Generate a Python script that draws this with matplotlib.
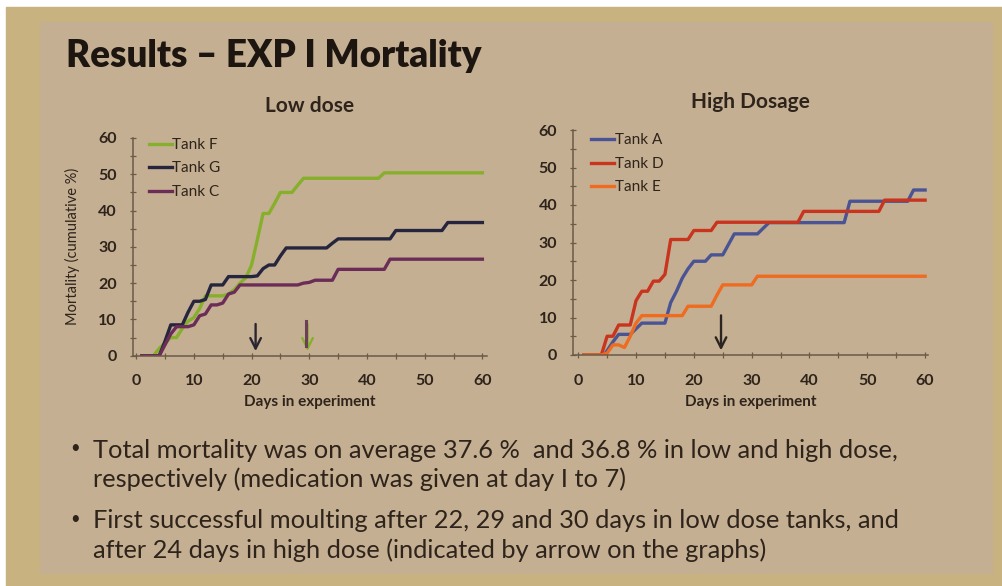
import matplotlib.pyplot as plt
from matplotlib.patches import Rectangle
from matplotlib.ticker import MultipleLocator

plt.rcParams['font.family'] = ['Lato', 'DejaVu Sans']

# --- data ---
# low dose
f_days = [1, 3, 4, 5, 6, 7, 8, 9, 10, 11, 12, 15, 16, 17, 18, 19, 20, 21, 22, 23, 24, 25, 27, 28, 29, 42, 43, 60]
f_vals = [0, 0, 2, 3.5, 5, 5, 7.5, 9.5, 10.5, 13, 16.5, 16.5, 17, 18.2, 20, 21.5, 25, 32, 39.2, 39.2, 42, 45, 45, 47, 48.9, 48.9, 50.4, 50.4]
g_days = [1, 4, 5, 6, 8, 9, 10, 11, 12, 13, 15, 16, 20, 21, 22, 23, 24, 25, 26, 33, 34, 35, 44, 45, 53, 54, 60]
g_vals = [0, 0, 4, 8.5, 8.5, 12, 15, 15, 15.5, 19.5, 19.5, 21.8, 21.8, 22, 24, 25, 25, 27.5, 29.7, 29.7, 31, 32.2, 32.2, 34.5, 34.5, 36.7, 36.7]
c_days = [1, 4, 5, 6, 7, 9, 10, 11, 12, 13, 14, 15, 16, 17, 18, 28, 29, 30, 31, 34, 35, 43, 44, 60]
c_vals = [0, 0, 3, 6, 8, 8, 8.5, 11, 11.5, 14, 14, 14.5, 17, 17.5, 19.5, 19.5, 20, 20.2, 20.8, 20.8, 23.8, 23.8, 26.6, 26.6]

# high dosage
a_days = [1, 4.5, 6, 7, 9, 10, 11, 15, 16, 17, 18, 19, 20, 22, 23, 25, 27, 31, 33, 46, 47, 57, 58, 60]
a_vals = [0, 0, 3.5, 5.5, 5.5, 7, 8.5, 8.5, 14, 17, 20.5, 23, 25, 25, 26.7, 26.7, 32.3, 32.3, 35.3, 35.3, 41, 41, 44, 44]
d_days = [1, 4, 5, 6, 7, 9, 10, 11, 12, 13, 14, 15, 16, 19, 20, 23, 24, 38, 39, 52, 53, 60]
d_vals = [0, 0, 5, 5, 8, 8, 14.5, 17, 17, 19.7, 19.7, 21.5, 30.8, 30.8, 33.2, 33.2, 35.4, 35.4, 38.3, 38.3, 41.3, 41.3]
e_days = [1, 4, 5, 6, 7, 8, 9, 10, 11, 18, 19, 23, 24, 25, 30, 31, 60]
e_vals = [0, 0, 0.5, 2.7, 2.7, 2, 5, 8.5, 10.5, 10.5, 13, 13, 16, 18.7, 18.7, 21, 21]

# first moulting arrows (day, colour)
low_arrows = [(20.7, '#2a2530'), (29.7, '#86b02c')]
low_shafts = [(29.4, '#6b3f55')]
high_arrows = [(24.7, '#2a2520')]

ink = '#2e241b'
spine_c = '#6a5a48'
arrow_style = '->,head_length=0.75,head_width=0.38'

fig = plt.figure(figsize=(10.02, 5.86), dpi=100, facecolor='white')
W, H = 1002, 586


def px_rect(x0, y0, x1, y1, color):
    fig.patches.append(Rectangle((x0 / W, 1 - y1 / H), (x1 - x0) / W, (y1 - y0) / H,
                                 transform=fig.transFigure, color=color, zorder=-10))


px_rect(6, 7, 1002, 586, '#c8b27f')
px_rect(40, 22, 992, 573, '#c5af92')


def style_axes(ax):
    ax.set_facecolor('none')
    ax.set_zorder(2)
    for s in ['top', 'right']:
        ax.spines[s].set_visible(False)
    for s in ['left', 'bottom']:
        ax.spines[s].set_color(spine_c)
        ax.spines[s].set_linewidth(1.1)
    ax.set_ylim(0, 60)
    ax.xaxis.set_major_locator(MultipleLocator(10))
    ax.xaxis.set_minor_locator(MultipleLocator(5))
    ax.yaxis.set_major_locator(MultipleLocator(10))
    ax.yaxis.set_minor_locator(MultipleLocator(5))
    ax.tick_params(which='both', direction='inout', color=spine_c, width=0.9)
    ax.tick_params(which='major', length=5, labelsize=11.5, labelcolor=ink)
    ax.tick_params(axis='y', which='major', pad=9)
    ax.tick_params(axis='x', which='major', pad=11)
    ax.tick_params(which='minor', length=4)
    for lab in ax.get_xticklabels() + ax.get_yticklabels():
        lab.set_fontweight('bold')
    ax.set_xlabel('Days in experiment', fontsize=11, fontweight='bold', color=ink, labelpad=5)


def legend(ax, anchor):
    ax.legend(loc='upper left', bbox_to_anchor=anchor, frameon=False, borderpad=0,
              borderaxespad=0, handlelength=1.5, handletextpad=0.05, labelspacing=0.62,
              prop={'size': 11}, labelcolor=ink)


# left axes
ax1 = fig.add_axes([132.7 / W, 1 - 355.7 / H, (487 - 132.7) / W, (355.7 - 138) / H])
ax1.set_xlim(-0.6, 60.8)
ax1.plot(f_days, f_vals, color='#86b02c', lw=2.4, label='Tank F')
ax1.plot(g_days, g_vals, color='#25253d', lw=2.4, label='Tank G')
ax1.plot(c_days, c_vals, color='#6b2d58', lw=2.4, label='Tank C')
style_axes(ax1)
ax1.set_ylabel('Mortality (cumulative %)', fontsize=10.5, color=ink, labelpad=13)
ax1.set_title('Low dose', fontsize=15, fontweight='bold', color=ink, pad=19)
for day, col in low_arrows:
    ax1.annotate('', xy=(day, 0.5), xytext=(day, 9.5),
                 arrowprops=dict(arrowstyle=arrow_style, color=col, lw=1.7))
for day, col in low_shafts:
    ax1.plot([day, day], [9.5, 2.8], color=col, lw=2.2, zorder=5)
legend(ax1, (0.045, 1.0))

# right axes
ax2 = fig.add_axes([573.3 / W, 1 - 355 / H, (928 - 573.3) / W, (355 - 130) / H])
ax2.set_xlim(-0.85, 60.5)
ax2.plot(a_days, a_vals, color='#4a5494', lw=2.4, label='Tank A')
ax2.plot(d_days, d_vals, color='#c9341e', lw=2.4, label='Tank D')
ax2.plot(e_days, e_vals, color='#ee6b20', lw=2.4, label='Tank E')
style_axes(ax2)
ax2.set_title('High Dosage', fontsize=15, fontweight='bold', color=ink, pad=16)
for day, col in high_arrows:
    ax2.annotate('', xy=(day, 0.5), xytext=(day, 11.3),
                 arrowprops=dict(arrowstyle=arrow_style, color=col, lw=1.7))
legend(ax2, (0.05, 0.985))

# slide text
fig.text(66 / W, 1 - 56 / H, 'Results \u2013 EXP I Mortality', fontsize=26.5, fontweight='heavy',
         color='#1c1510', va='center', ha='left')

bullets = [
    ('Total mortality was on average 37.6 %  and 36.8 % in low and high dose,',
     'respectively (medication was given at day I to 7)', 450),
    ('First successful moulting after 22, 29 and 30 days in low dose tanks, and',
     'after 24 days in high dose (indicated by arrow on the graphs)', 521),
]
for l1, l2, y in bullets:
    fig.text(70 / W, 1 - (y - 2) / H, '\u2022', fontsize=12, color=ink, va='center')
    fig.text(93 / W, 1 - y / H, l1, fontsize=18.3, color=ink, va='center')
    fig.text(93 / W, 1 - (y + 29) / H, l2, fontsize=18.3, color=ink, va='center')

fig.savefig('out.png', dpi=100, facecolor=fig.get_facecolor())
